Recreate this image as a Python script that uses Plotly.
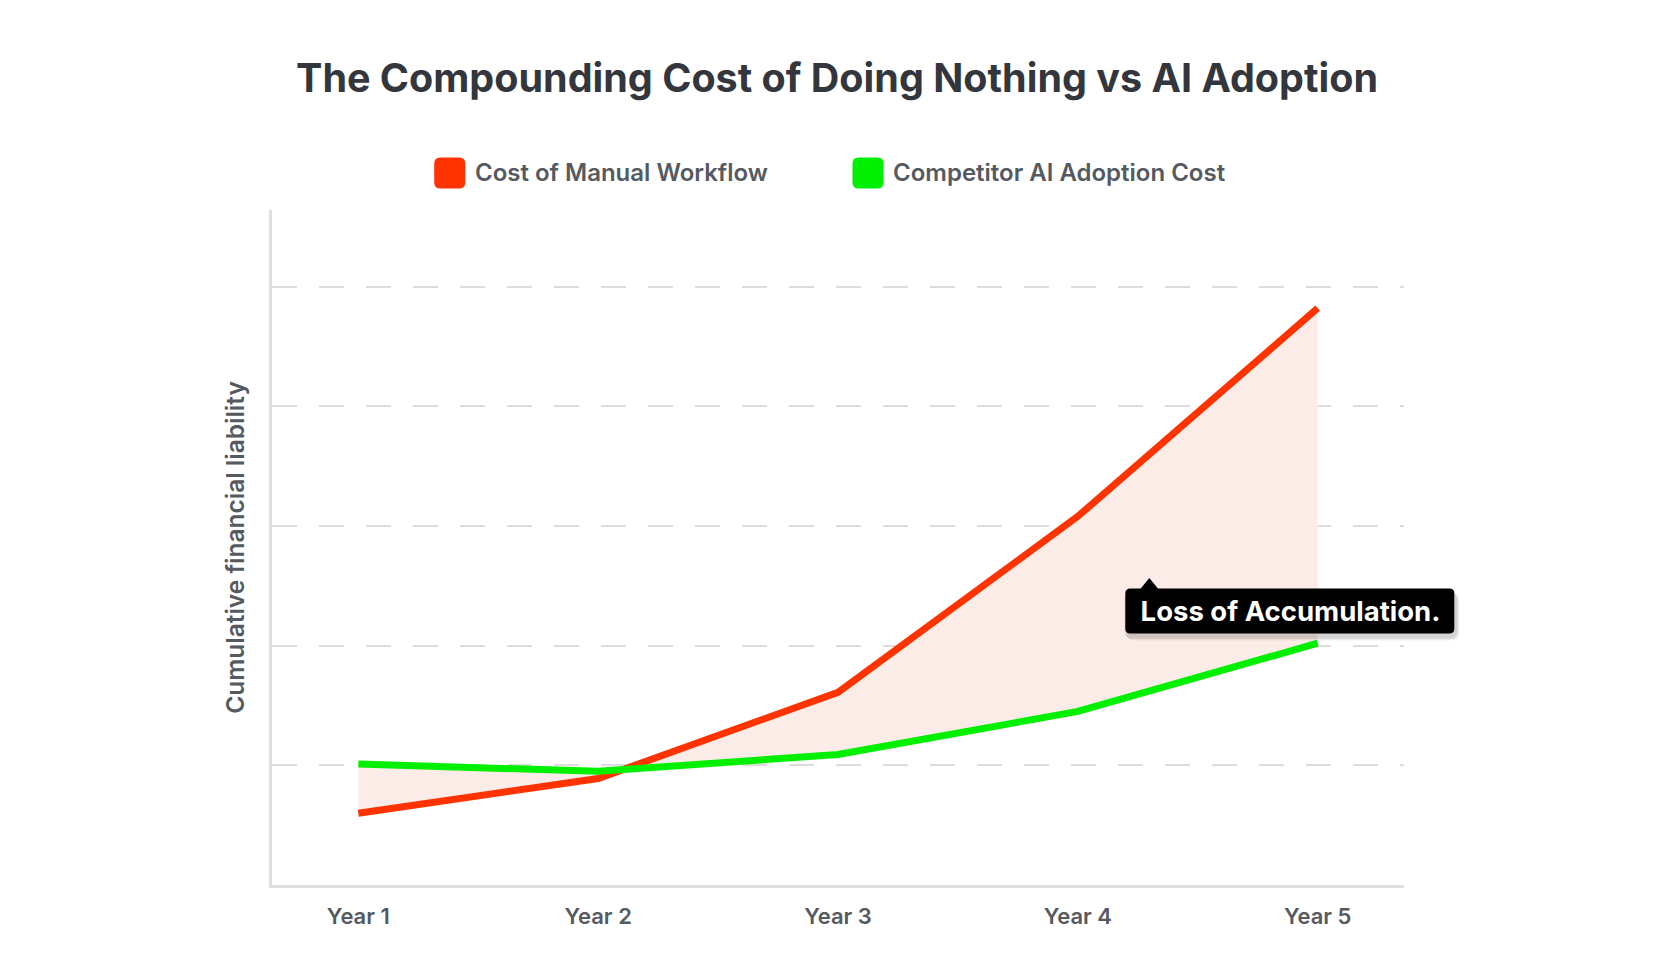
import plotly.graph_objects as go

# data
years = ['Year 1', 'Year 2', 'Year 3', 'Year 4', 'Year 5']
manual_cost = [0.60, 0.89, 1.61, 3.08, 4.82]
ai_cost = [1.01, 0.95, 1.09, 1.45, 2.02]
series_names = ['Cost of Manual Workflow', 'Competitor AI Adoption Cost']
series_colors = ['#FF3300', '#00F000']
note_text = 'Loss of Accumulation.'

FONT = 'Inter'
TXT = '#555a60'
X_RANGE = [-0.36, 4.36]
Y_RANGE = [0, 5.64]

fig = go.Figure()
fig.add_trace(go.Scatter(x=years, y=manual_cost, mode='lines', name=series_names[0],
                         line=dict(color=series_colors[0], width=7), showlegend=False,
                         hoverinfo='skip'))
fig.add_trace(go.Scatter(x=years, y=ai_cost, mode='lines', name=series_names[1],
                         line=dict(color=series_colors[1], width=7), showlegend=False,
                         fill='tonexty', fillcolor='#FCECE7', hoverinfo='skip'))


def rounded_rect(x0, y0, x1, y1, r):
    return (f'M {x0 + r},{y0} L {x1 - r},{y0} Q {x1},{y0} {x1},{y0 + r} '
            f'L {x1},{y1 - r} Q {x1},{y1} {x1 - r},{y1} L {x0 + r},{y1} '
            f'Q {x0},{y1} {x0},{y1 - r} L {x0},{y0 + r} Q {x0},{y0} {x0 + r},{y0} Z')


# hand-made legend (rounded swatches)
legend_x = [0.157, 0.5265]
shapes = []
annotations = []
for name, color, lx in zip(series_names, series_colors, legend_x):
    shapes.append(dict(type='path', xref='paper', yref='paper', xsizemode='pixel',
                       ysizemode='pixel', xanchor=lx, yanchor=1.055,
                       path=rounded_rect(-15.5, -15.5, 15.5, 15.5, 6),
                       fillcolor=color, line=dict(width=0)))
    annotations.append(dict(xref='paper', yref='paper', x=lx + 0.0205, y=1.055,
                            xanchor='left', yanchor='middle', showarrow=False, text=name,
                            font=dict(family=FONT, size=24, color=TXT, weight=600)))

# callout: soft shadow, rounded black box, pointer, text
note_x, note_y = 3.198, 2.29
# paper coords so the box is not clipped at the plot edge
px = (note_x - X_RANGE[0]) / (X_RANGE[1] - X_RANGE[0])
py = (note_y - Y_RANGE[0]) / (Y_RANGE[1] - Y_RANGE[0])
box = dict(type='path', xref='paper', yref='paper', xsizemode='pixel', ysizemode='pixel',
           xanchor=px, yanchor=py, line=dict(width=0))
for dx, dy, alpha in [(2, -4, 0.06), (3, -5, 0.05), (1, -3, 0.07)]:
    shapes.append(dict(box, path=rounded_rect(dx - 2, -22.5 + dy - 2, 329 + dx + 2, 22.5 + dy, 8),
                       fillcolor=f'rgba(0,0,0,{alpha})'))
shapes.append(dict(box, path=rounded_rect(0, -22.5, 329, 22.5, 5), fillcolor='#000000'))
shapes.append(dict(box, path='M 15,22 L 33,22 L 24,33 Z', fillcolor='#000000'))
annotations.append(dict(x=note_x, y=note_y, xref='x', yref='y', xanchor='left', yanchor='middle',
                        showarrow=False, text=note_text, borderpad=7,
                        width=315, height=31, align='center',
                        font=dict(family=FONT, size=27.5, color='#ffffff', weight=700)))

# page body has an 8px margin, so the figure is a bit smaller than the window
fig.update_layout(
    width=1658, height=964,
    margin=dict(l=264, r=262, t=202, b=87),
    paper_bgcolor='white', plot_bgcolor='white',
    title=dict(text='The Compounding Cost of Doing Nothing vs AI Adoption',
               x=0.5, xanchor='center', y=0.9274, yanchor='middle',
               font=dict(family=FONT, size=39.5, color='#33373d', weight=700)),
    shapes=shapes,
    annotations=annotations,
    showlegend=False,
)
fig.update_xaxes(range=X_RANGE, showgrid=False, zeroline=False,
                 showline=True, linecolor='#dde0e3', linewidth=3,
                 ticks='', ticklabelstandoff=10,
                 tickfont=dict(family=FONT, size=22, color=TXT, weight=600))
fig.update_yaxes(range=Y_RANGE, dtick=1, showticklabels=False, zeroline=False,
                 showgrid=True, gridcolor='#dcdcdc', gridwidth=2, griddash='25px,22px',
                 showline=True, linecolor='#dde0e3', linewidth=3,
                 title=dict(text='Cumulative financial liability', standoff=18,
                            font=dict(family=FONT, size=24.5, color=TXT, weight=600)))

fig.write_html('out.html')
